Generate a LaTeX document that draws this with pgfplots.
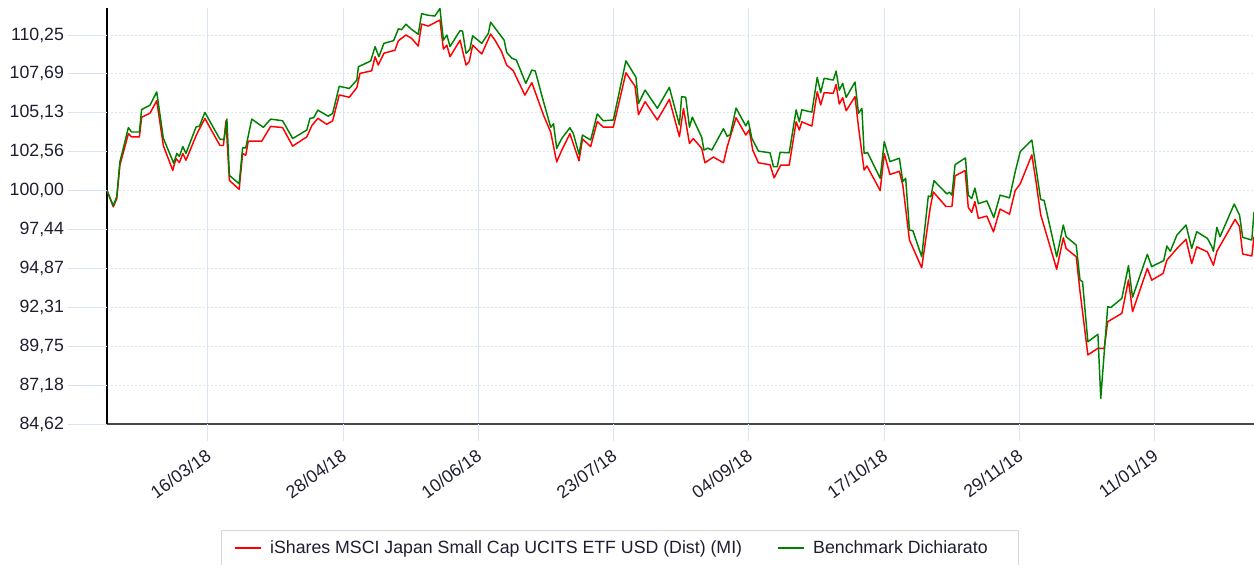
\documentclass[border=0pt]{standalone}
\usepackage{fontspec}
\setmainfont{Liberation Sans}
\usepackage{pgfplots}
\pgfplotsset{compat=1.18}
\definecolor{gridc}{RGB}{218,229,244}
\definecolor{txt}{RGB}{30,30,50}
\definecolor{sred}{RGB}{255,0,0}
\definecolor{sgreen}{RGB}{0,128,0}
\definecolor{spine}{RGB}{70,70,70}
\definecolor{legbord}{RGB}{215,215,215}
\newcommand{\tfont}{\fontsize{13.3}{15.5}\selectfont}
\begin{document}
\begin{tikzpicture}
\begin{axis}[
 name=ax, scale only axis, width=860.25pt, height=312pt,
 xmin=0, xmax=364.5, ymin=84.62, ymax=112.03,
 axis lines=left, axis line style={-},
 x axis line style={draw=spine, line width=1.5pt},
 y axis line style={draw=black, line width=1.1pt},
 xtick={32,75,118,161,204,247,290,333},
 xticklabels={16/03/18,28/04/18,10/06/18,23/07/18,04/09/18,17/10/18,29/11/18,11/01/19},
 ytick={84.62,87.18,89.75,92.31,94.87,97.44,100,102.56,105.13,107.69,110.25},
 yticklabels={{84,62},{87,18},{89,75},{92,31},{94,87},{97,44},{100,00},{102,56},{105,13},{107,69},{110,25}},
 major tick length=0pt, tick style={draw=none},
 xmajorgrids, ymajorgrids,
 x grid style={gridc, line width=0.75pt},
 y grid style={gridc, line width=0.75pt, dash pattern=on 1.5pt off 1.5pt},
 tick label style={font=\tfont, text=txt},
 xticklabel style={xshift=3.5pt, yshift=-20pt, rotate=36, anchor=east},
 yticklabel style={xshift=-28.75pt, anchor=east},
 clip=false,
 legend style={at={(axis description cs:0.4473,-0.2548)}, anchor=north, draw=legbord, line width=1.1pt, font=\tfont, text=txt, legend columns=2, inner xsep=9pt, inner ysep=5.5pt, /tikz/every even column/.append style={column sep=24pt}},
 legend cell align=left,
 legend image code/.code={\draw[#1, line width=1.5pt] (0pt,0pt) -- (19.5pt,0pt); \path (24pt,0pt);},
]
\pgfplotsinvokeforeach{32,75,118,161,204,247,290,333}{\draw[gridc, line width=0.75pt] (axis cs:#1,84.62) -- ++(0pt,-13pt);}
\pgfplotsinvokeforeach{84.62,87.18,89.75,92.31,94.87,97.44,100,102.56,105.13,107.69,110.25}{\draw[gridc, line width=0.75pt] (axis cs:0,#1) -- ++(-29.25pt,0pt);}
\addplot[sred, line width=1.1pt, line join=round] coordinates {
(0,100.0)(2.0,98.93)(3.1,99.47)(4.1,101.67)(6.8,103.75)(7.8,103.54)(10.3,103.54)(11.0,104.83)(13.7,105.11)(15.8,105.92)
(17.9,102.97)(20.9,101.33)(21.9,102.11)(23.0,101.85)(24.1,102.44)(25.1,102.0)(28.5,103.71)(31.1,104.75)(35.9,102.97)(37.0,102.97)
(37.8,104.59)(38.9,100.67)(42.0,100.08)(43.1,102.44)(44.1,102.33)(44.9,103.26)(49.2,103.26)(52.0,104.23)(55.8,104.15)(59.0,102.93)
(63.5,103.54)(65.1,104.28)(67.0,104.76)(69.8,104.37)(71.7,104.59)(73.8,106.30)(77.0,106.15)(79.4,106.79)(80.4,107.72)(84.1,107.89)
(85.2,108.82)(86.2,108.27)(88.0,109.05)(91.5,109.25)(92.6,109.87)(95.0,110.25)(96.8,110.03)(98.9,109.52)(100.0,110.97)(102.1,110.84)
(105.8,111.24)(106.9,109.32)(108.0,109.58)(109.0,108.82)(112.2,109.91)(114.1,108.27)(115.1,108.49)(116.2,109.58)(119.1,109.0)(121.9,110.31)
(123.3,109.91)(125.4,109.15)(127.0,108.27)(129.1,107.9)(132.8,106.29)(135.0,107.11)(138.7,104.98)(141.0,103.85)(142.9,101.89)(144.3,102.56)
(147.1,103.75)(150.0,101.96)(151.1,103.4)(153.7,102.9)(155.8,104.55)(157.7,104.18)(160.9,104.18)(164.9,107.76)(167.8,106.87)(168.9,105.0)
(171.0,105.86)(174.9,104.65)(178.7,106.01)(181.9,103.55)(183.2,105.42)(185.1,103.1)(186.3,103.43)(189.0,102.78)(190.0,101.83)(192.7,102.21)
(195.9,101.83)(197.1,102.89)(199.9,104.8)(203.0,103.66)(204.1,104.0)(205.2,102.67)(207.0,101.83)(210.7,101.70)(212.0,100.84)(214.1,101.68)
(216.8,101.68)(219.0,104.53)(220.0,103.99)(220.8,104.53)(224.0,104.25)(225.7,106.51)(226.8,105.64)(227.9,106.45)(230.8,106.41)(231.7,106.99)
(232.7,105.70)(233.8,106.12)(234.9,105.26)(237.7,106.19)(238.8,104.21)(240.6,101.35)(241.5,101.62)(245.7,100.0)(247.0,102.44)(248.8,101.06)
(251.8,101.27)(252.9,100.35)(255.0,96.75)(258.9,94.91)(261.6,98.86)(262.6,99.91)(266.6,98.95)(268.5,98.95)(269.5,100.97)(272.7,101.32)
(273.7,98.88)(274.8,98.57)(275.8,99.27)(276.9,98.17)(279.6,98.32)(281.7,97.28)(283.8,98.78)(286.8,98.45)(288.6,100.0)(290.2,100.44)
(293.9,102.35)(295.2,100.62)(296.7,98.42)(301.8,94.82)(303.9,96.89)(304.8,96.18)(308.0,95.64)(309.2,93.37)(311.7,89.17)(314.9,89.61)
(316.9,89.61)(318.0,91.36)(322.5,91.91)(324.6,94.11)(325.9,92.02)(330.6,94.87)(332.0,94.10)(335.6,94.54)(336.8,95.41)(340.0,96.18)
(342.9,96.79)(344.7,95.19)(346.3,96.29)(349.7,95.96)(351.6,95.08)(352.7,96.0)(358.5,98.1)(359.9,97.62)(360.9,95.82)(363.8,95.69)(364.5,96.96)
};
\addlegendentry{iShares MSCI Japan Small Cap UCITS ETF USD (Dist) (MI)}
\addplot[sgreen, line width=1.1pt, line join=round] coordinates {
(0,100.0)(2.0,99.0)(3.1,99.6)(4.1,101.89)(6.8,104.15)(7.8,103.86)(10.3,103.86)(11.0,105.34)(13.7,105.63)(15.8,106.5)
(17.9,103.45)(21.2,101.8)(22.2,102.45)(23.0,102.25)(24.1,102.9)(25.1,102.45)(28.3,104.19)(29.4,104.25)(31.1,105.15)(35.9,103.38)
(37.2,103.38)(38.1,104.71)(38.9,101.0)(42.0,100.45)(43.1,102.82)(44.1,102.82)(46.0,104.71)(49.7,104.17)(52.0,104.71)(55.8,104.6)
(59.0,103.43)(63.5,103.99)(64.5,104.76)(65.7,104.8)(67.0,105.3)(70.3,104.9)(71.7,105.08)(73.8,106.87)(77.0,106.73)(79.4,107.28)
(79.9,108.16)(83.8,108.54)(85.2,109.48)(86.4,108.82)(88.0,109.70)(91.1,109.88)(92.6,110.66)(93.6,110.6)(95.0,110.96)(96.8,110.62)
(98.9,110.3)(100.0,111.66)(102.1,111.55)(104.2,111.5)(105.8,112.0)(106.9,109.91)(108.0,110.25)(109.0,109.49)(112.2,110.54)(113.0,110.5)
(114.1,109.04)(115.3,109.3)(116.2,110.2)(119.1,109.7)(121.2,110.36)(121.9,111.1)(126.2,109.91)(127.0,109.11)(128.6,108.73)(130.1,108.6)
(133.1,107.06)(135.0,107.94)(136.1,107.88)(138.7,105.87)(141.0,104.17)(141.9,104.4)(142.9,102.78)(144.5,103.43)(147.1,104.14)(148.2,103.75)
(150.0,102.4)(151.1,103.66)(153.7,103.33)(155.8,105.05)(157.7,104.6)(160.9,104.65)(164.9,108.55)(168.1,107.46)(168.9,105.74)(171.0,106.62)
(174.9,105.42)(178.7,106.8)(181.9,104.32)(182.6,106.19)(183.9,106.15)(185.1,104.18)(186.0,104.84)(189.0,103.5)(189.7,102.67)(190.9,102.8)
(192.2,102.67)(195.9,104.08)(197.1,103.57)(198.1,103.7)(199.9,105.44)(203.0,104.26)(203.8,104.59)(204.9,103.46)(207.0,102.6)(210.7,102.49)
(211.8,101.57)(213.0,101.57)(213.9,102.52)(216.8,102.49)(219.0,105.32)(220.0,104.53)(220.8,105.32)(224.0,105.17)(225.7,107.46)(226.8,106.45)
(227.9,107.40)(230.8,107.28)(231.7,107.87)(232.7,106.62)(233.8,107.06)(234.9,106.14)(237.7,107.15)(238.8,105.09)(239.9,105.42)(240.6,102.45)
(241.7,102.5)(245.7,100.81)(247.0,103.23)(248.8,101.91)(251.8,102.13)(252.9,100.59)(253.8,100.81)(255.0,97.40)(256.1,97.35)(258.9,95.64)
(261.0,99.64)(261.8,99.6)(262.8,100.65)(266.9,99.78)(267.7,99.9)(268.5,99.7)(269.5,101.71)(272.8,102.15)(273.7,99.69)(274.8,99.47)
(275.8,100.16)(276.9,99.14)(279.6,99.32)(281.8,98.22)(283.8,99.7)(286.8,99.52)(288.6,101.23)(290.2,102.56)(293.9,103.33)(295.2,101.52)
(296.7,99.41)(297.8,99.35)(301.8,95.64)(303.9,97.73)(304.8,96.96)(308.0,96.41)(309.2,94.11)(310.0,94.0)(311.7,90.04)(314.9,90.53)
(315.8,86.31)(318.0,92.35)(319.0,92.3)(322.5,92.9)(324.6,95.05)(325.9,92.97)(330.6,95.8)(332.0,94.98)(333.0,95.1)(335.8,95.38)
(336.8,96.35)(337.9,96.0)(340.0,97.07)(342.9,97.73)(344.7,96.19)(346.3,97.29)(349.7,96.85)(351.1,96.3)(351.6,96.0)(352.7,97.58)
(353.7,96.96)(358.2,99.11)(359.9,98.38)(360.9,96.92)(363.8,96.74)(364.5,98.6)
};
\addlegendentry{Benchmark Dichiarato\rule{12pt}{0pt}}
\end{axis}
\pgfresetboundingbox
\useasboundingbox ([shift={(-80.25pt,-105pt)}]ax.south west) rectangle ([shift={(0pt,6pt)}]ax.north east);
\end{tikzpicture}
\end{document}
